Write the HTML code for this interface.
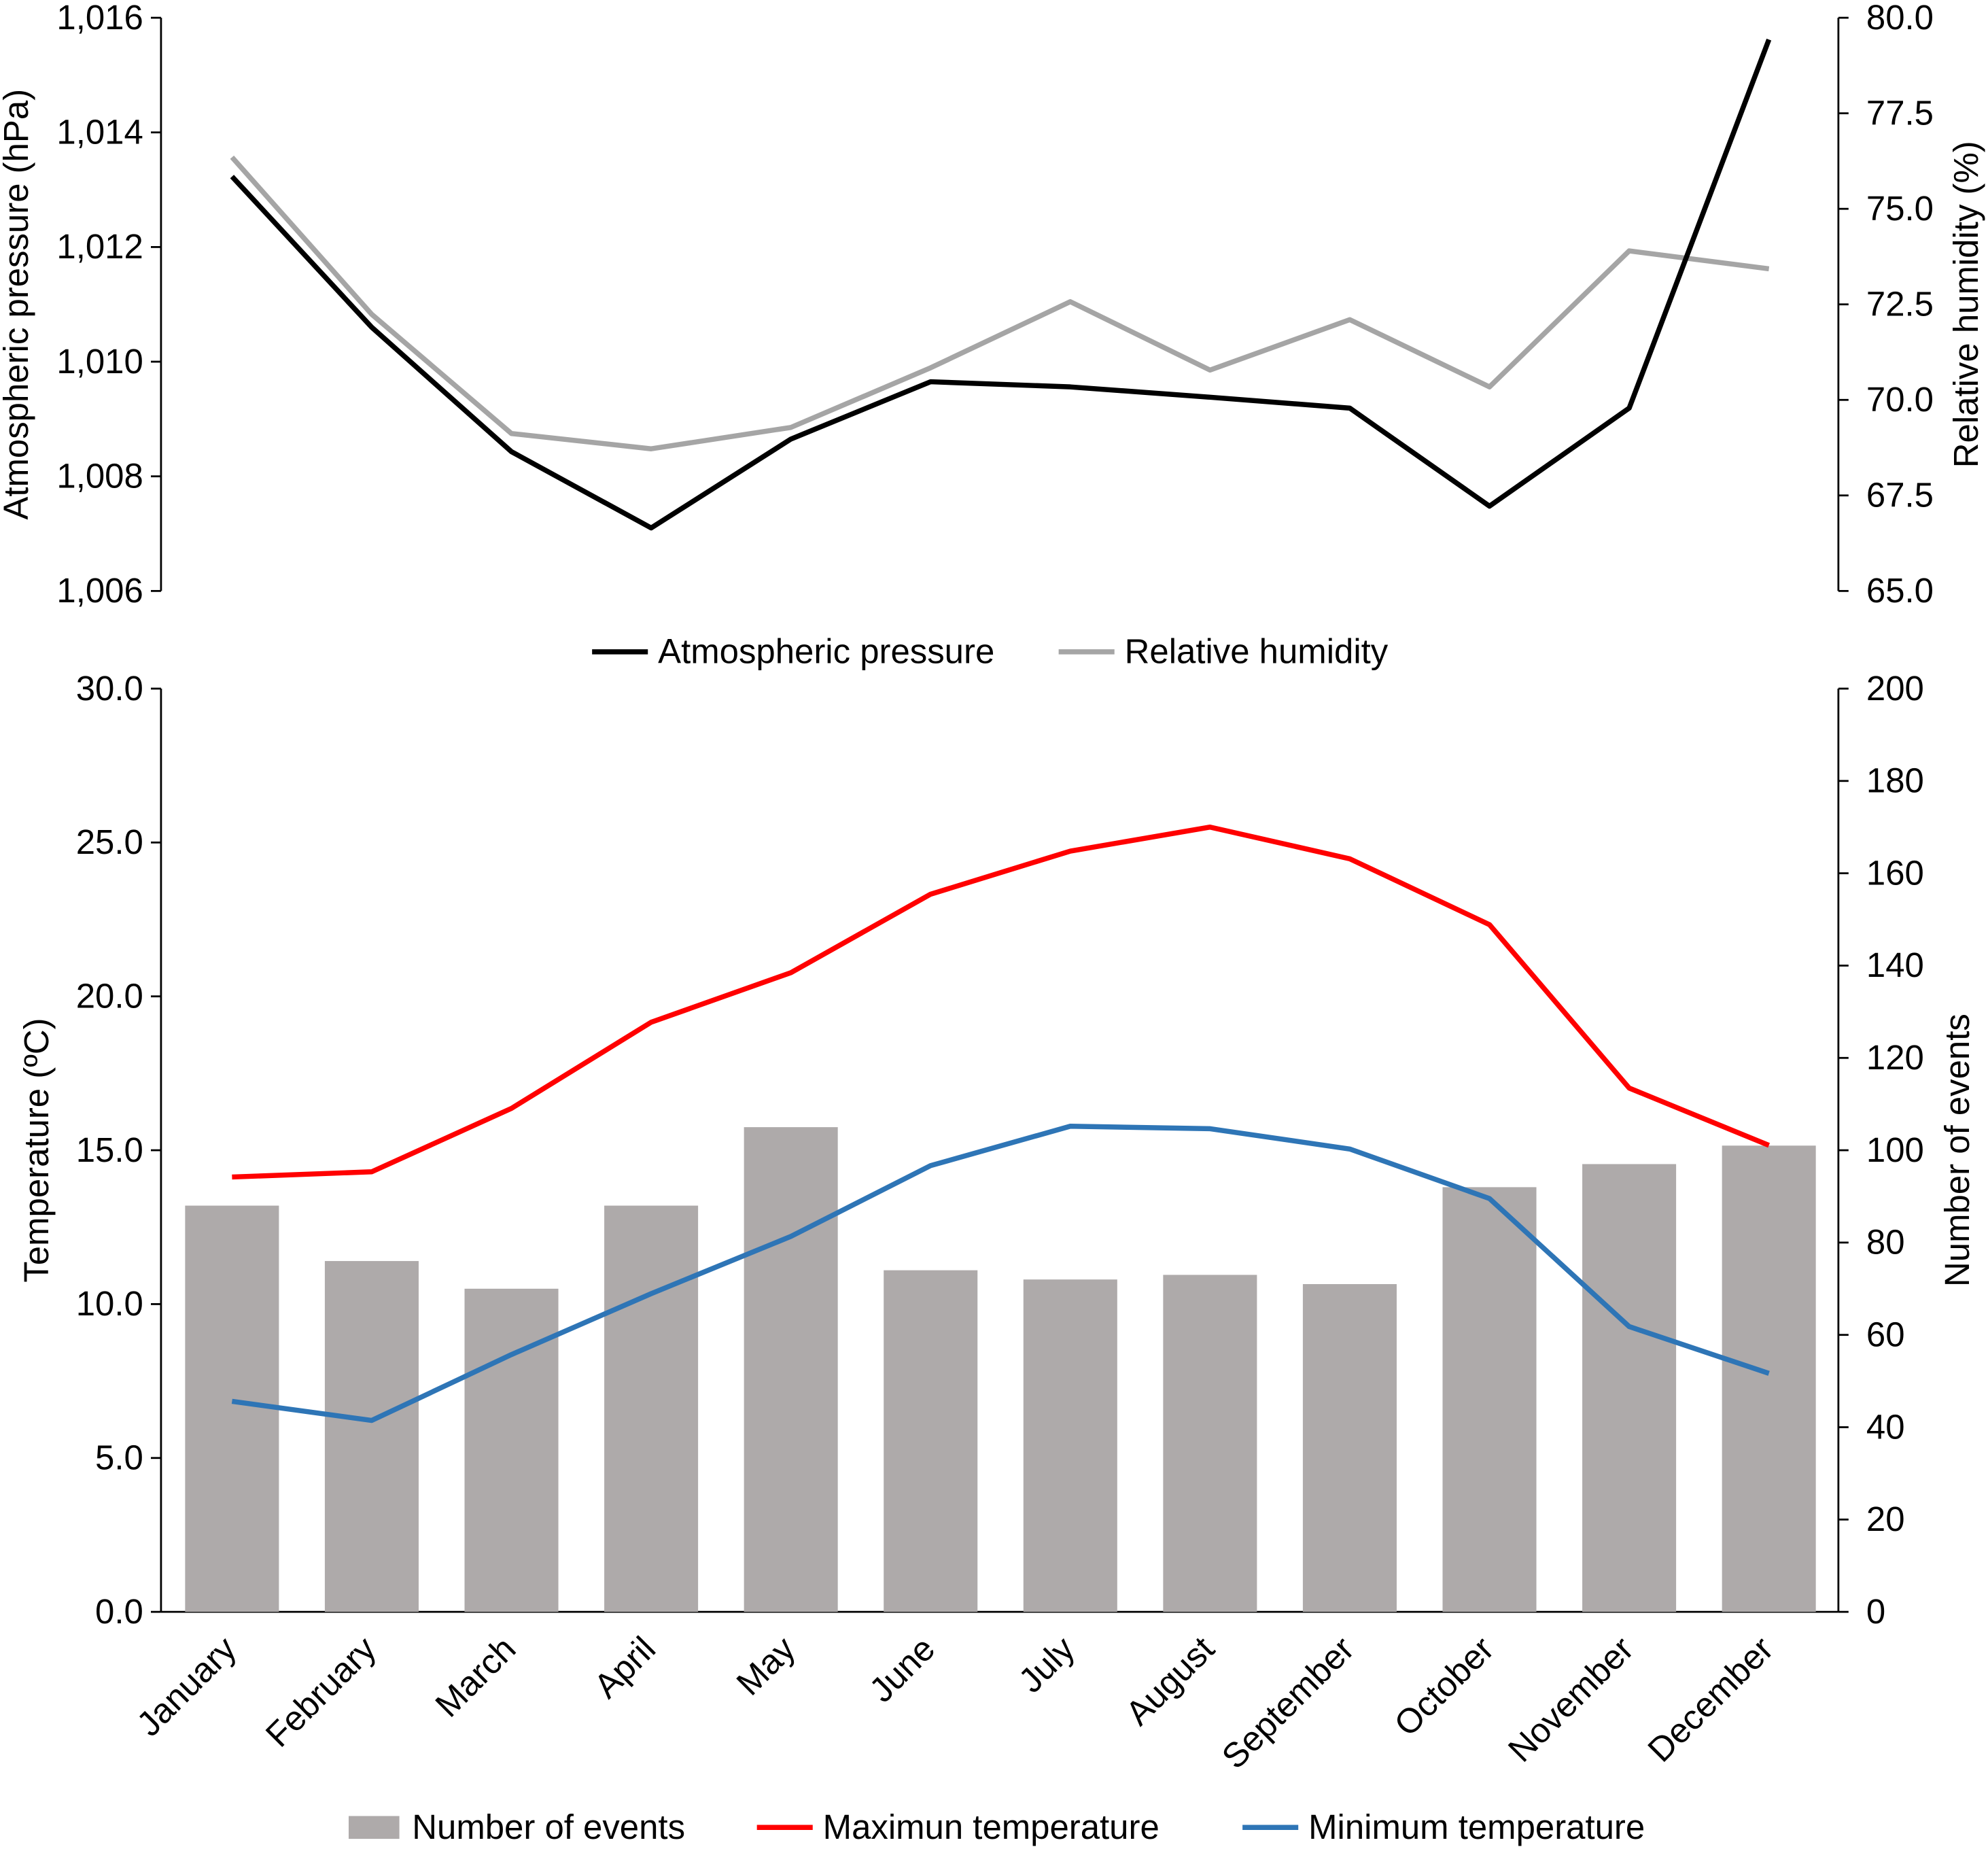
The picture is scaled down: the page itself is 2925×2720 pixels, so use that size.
<!DOCTYPE html>
<html><head><meta charset="utf-8"><style>html,body{margin:0;padding:0;background:#fff}svg{display:block}text{font-family:"Liberation Sans",Arial,sans-serif;fill:#000}</style></head>
<body>
<svg id="chart" width="2925" height="2720" viewBox="0 0 1568 1458" preserveAspectRatio="none" xmlns="http://www.w3.org/2000/svg"></svg>
<script>
const months=["January","February","March","April","May","June","July","August","September","October","November","December"];
const pressure=[1013.23,1010.6,1008.43,1007.1,1008.65,1009.65,1009.56,1009.38,1009.19,1007.48,1009.19,1015.62];
const humidity=[76.35,72.24,69.12,68.72,69.28,70.84,72.57,70.78,72.1,70.34,73.9,73.43];
const events=[88,76,70,88,105,74,72,73,71,92,97,101];
const maxTemp=[14.13,14.3,16.36,19.16,20.77,23.32,24.72,25.5,24.47,22.33,17.02,15.16];
const minTemp=[6.84,6.22,8.36,10.34,12.2,14.5,15.78,15.7,15.04,13.43,9.27,7.75];
const pTicks=["1,006","1,008","1,010","1,012","1,014","1,016"];
const hTicks=["65.0","67.5","70.0","72.5","75.0","77.5","80.0"];
const tTicks=["0.0","5.0","10.0","15.0","20.0","25.0","30.0"];
const eTicks=["0","20","40","60","80","100","120","140","160","180","200"];

const svg=document.getElementById('chart');
const NS="http://www.w3.org/2000/svg";
const FS=27.3;
function el(t,a,p){const e=document.createElementNS(NS,t);for(const k in a)e.setAttribute(k,a[k]);(p||svg).appendChild(e);return e;}
const L=127,R=1450;
const xM=i=>183+i*110.2;
const yP=v=>466-(v-1006)/10*452;
const yH=v=>466-(v-65)/15*452;
const yT=v=>1271-v/30*728;
const yE=v=>1271-v/200*728;

function axis(x,y1,y2,name){const a=el('line',{x1:x,y1:y1,x2:x,y2:y2,stroke:'#000','stroke-width':1.5});}
axis(L,14,466,'top-left-axis');axis(R,14,466,'top-right-axis');
axis(L,543,1271,'bottom-left-axis');axis(R,543,1271,'bottom-right-axis');
const xa=el('line',{x1:L,y1:1271,x2:R,y2:1271,stroke:'#000','stroke-width':1.5});



function ticks(labels,fn,vals,x,side,name){labels.forEach((lab,i)=>{const y=fn(vals[i]);
el('line',{x1:side<0?x-8:x,y1:y,x2:side<0?x:x+8,y2:y,stroke:'#000','stroke-width':1.5});
const t=el('text',{x:side<0?x-14:x+22,y:y+9,'font-size':FS,'text-anchor':side<0?'end':'start'});t.textContent=lab;

});}
ticks(pTicks,yP,[1006,1008,1010,1012,1014,1016],L,-1,'pressure-tick-label');
ticks(hTicks,yH,[65,67.5,70,72.5,75,77.5,80],R,1,'humidity-tick-label');
ticks(tTicks,yT,[0,5,10,15,20,25,30],L,-1,'temperature-tick-label');
ticks(eTicks,yE,[0,20,40,60,80,100,120,140,160,180,200],R,1,'events-tick-label');

events.forEach((v,i)=>{const b=el('rect',{x:xM(i)-37,y:yE(v),width:74,height:yE(0)-yE(v),fill:'#aeaaaa'});

});

function line(vals,fn,color,w,name){const d=vals.map((v,i)=>(i?'L':'M')+xM(i)+','+fn(v)).join(' ');
const p=el('path',{d:d,fill:'none',stroke:color,'stroke-width':w,'stroke-linejoin':'round'});

}
line(humidity,yH,'#a5a5a5',4,'humidity-line');
line(pressure,yP,'#000',4,'pressure-line');
line(maxTemp,yT,'#ff0000',4,'max-temp-line');
line(minTemp,yT,'#2e75b6',4,'min-temp-line');

months.forEach((m,i)=>{const x=xM(i)+5,y=1302;const t=el('text',{x:x,y:y,'font-size':FS,'text-anchor':'end',transform:`rotate(-45 ${x} ${y})`});t.textContent=m;

});

function title(txt,x,y,rot,name){const t=el('text',{x:x,y:y,'font-size':FS,'text-anchor':'middle',transform:`rotate(${rot} ${x} ${y})`});t.textContent=txt;

}
title('Atmospheric pressure (hPa)',22,240,-90,'pressure-axis-title');
title('Relative humidity (%)',1560,240,-90,'humidity-axis-title');
title('Temperature (ºC)',38,907,-90,'temperature-axis-title');
title('Number of events',1553,907,-90,'events-axis-title');

function legLine(x,y,color,txt,name){el('line',{x1:x,y1:y,x2:x+44,y2:y,stroke:color,'stroke-width':4});
const t=el('text',{x:x+52,y:y+9,'font-size':FS});t.textContent=txt;

}
legLine(467,514,'#000','Atmospheric pressure','legend-pressure');
legLine(835,514,'#a5a5a5','Relative humidity','legend-humidity');
el('rect',{x:275,y:1432,width:40,height:18,fill:'#aeaaaa'});
const lt=el('text',{x:325,y:1450,'font-size':FS});lt.textContent='Number of events';


legLine(597,1441,'#ff0000','Maximun temperature','legend-max-temp');
legLine(980,1441,'#2e75b6','Minimum temperature','legend-min-temp');
</script>
</body></html>
